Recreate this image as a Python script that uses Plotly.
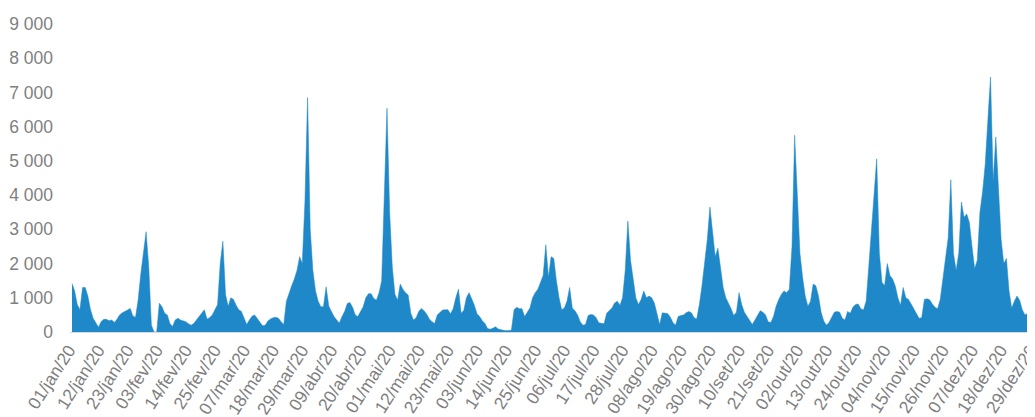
import pandas as pd
import plotly.graph_objects as go

# Portuguese month abbreviations used in the axis labels
MESES = ["jan", "fev", "mar", "abr", "mai", "jun", "jul", "ago", "set", "out", "nov", "dez"]

DATAS = pd.date_range("2020-01-01", "2020-12-31", freq="D")
CATEGORIAS = [f"{d.day:02d}/{MESES[d.month - 1]}/{d.year % 100:02d}" for d in DATAS]

# Daily values (01/jan/20 .. 31/dez/20)
VALORES = [
    1420, 1200, 800, 650, 1300, 1300, 1050, 650, 400, 250,
    140, 300, 370, 370, 330, 350, 280, 370, 500, 560,
    590, 640, 690, 470, 430, 940, 1700, 2300, 2930, 1900,
    200, 0, 0, 840, 740, 550, 500, 250, 160, 350,
    400, 350, 330, 300, 240, 200, 250, 350, 450, 550,
    650, 380, 420, 500, 650, 800, 2000, 2650, 1100, 750,
    1000, 950, 780, 650, 600, 400, 220, 350, 460, 500,
    400, 300, 180, 200, 320, 380, 420, 430, 400, 300,
    220, 900, 1150, 1350, 1550, 1800, 2200, 2000, 3800, 6850,
    3000, 1800, 1200, 900, 740, 740, 1320, 760, 600, 450,
    350, 260, 450, 600, 830, 860, 720, 500, 450, 620,
    740, 1000, 1120, 1120, 980, 930, 1150, 1500, 4000, 6540,
    3500, 1900, 1100, 930, 1400, 1250, 1150, 1080, 550, 350,
    420, 600, 690, 620, 520, 380, 300, 250, 500, 580,
    640, 650, 650, 530, 680, 1000, 1250, 550, 630, 1000,
    1150, 970, 780, 530, 450, 330, 250, 100, 80, 110,
    150, 90, 60, 50, 40, 40, 50, 650, 720, 680,
    680, 450, 580, 700, 1000, 1150, 1250, 1450, 1650, 2550,
    1600, 2200, 2150, 1500, 1000, 650, 700, 900, 1300, 700,
    620, 500, 300, 200, 220, 480, 510, 500, 420, 270,
    250, 240, 550, 640, 700, 850, 900, 780, 1000, 1800,
    3240, 2100, 1500, 1000, 800, 950, 1200, 1000, 1050, 1000,
    850, 500, 220, 560, 560, 540, 440, 280, 200, 450,
    480, 500, 560, 600, 560, 420, 380, 800, 1350, 2000,
    2700, 3650, 3000, 2200, 2450, 1900, 1300, 1000, 850, 680,
    480, 580, 1150, 800, 580, 450, 320, 220, 350, 500,
    620, 580, 500, 300, 280, 450, 750, 950, 1100, 1200,
    1150, 1250, 2500, 5750, 3800, 2300, 1600, 1050, 750, 900,
    1400, 1350, 1050, 580, 320, 200, 280, 440, 580, 600,
    580, 400, 350, 600, 550, 720, 800, 820, 680, 640,
    900, 1900, 3000, 4200, 5060, 2300, 1450, 1360, 2000, 1650,
    1550, 1350, 1000, 780, 1300, 1000, 950, 820, 680, 560,
    400, 420, 950, 970, 940, 820, 720, 680, 950, 1550,
    2150, 2750, 4450, 2300, 1800, 2300, 3800, 3350, 3450, 3200,
    2500, 1850, 2100, 3500, 4100, 4900, 6200, 7450, 4400, 5700,
    4200, 2700, 2000, 2150, 1200, 700, 900, 1050, 930, 650,
    500, 540, 800, 1200, 1500, 1800,
]

# Axis ticks
PASSO_ROTULO = 11
ROTULOS_X = CATEGORIAS[::PASSO_ROTULO]
VALORES_Y = list(range(0, 9001, 1000))
ROTULOS_Y = [f"{v:,}".replace(",", " ") for v in VALORES_Y]

AZUL = "#1e88c9"
CINZA = "#7f7f7f"
FONTE = "Liberation Sans, Arial, sans-serif"

fig = go.Figure(
    go.Scatter(
        x=CATEGORIAS,
        y=VALORES,
        mode="lines",
        line=dict(color=AZUL, width=0.5),
        fill="tozeroy",
        fillcolor=AZUL,
        hoverinfo="x+y",
    )
)

# the page body adds an 8 px offset, so the figure is sized to fill the rest
fig.update_layout(
    width=1027,
    height=409,
    margin=dict(l=62, r=0, t=16, b=85, autoexpand=False),
    paper_bgcolor="white",
    plot_bgcolor="white",
    showlegend=False,
    font=dict(family=FONTE, color=CINZA, size=17),
)

fig.update_xaxes(
    type="category",
    categoryorder="array",
    categoryarray=CATEGORIAS,
    range=[-0.75, 363.8],
    tickmode="array",
    tickvals=ROTULOS_X,
    ticktext=ROTULOS_X,
    tickangle=-57,
    tickfont=dict(size=17.5, color=CINZA),
    ticklabelshift=-3,
    showgrid=False,
    zeroline=False,
    showline=True,
    linecolor="#d9d9d9",
    linewidth=1,
    ticks="",
    automargin=False,
)

fig.update_yaxes(
    range=[0, 9000],
    tickmode="array",
    tickvals=VALORES_Y,
    ticktext=ROTULOS_Y,
    tickfont=dict(size=17.5, color=CINZA),
    showgrid=False,
    zeroline=False,
    showline=False,
    ticks="",
    ticklabelstandoff=16,
    automargin=False,
)

fig.write_html("out.html")
